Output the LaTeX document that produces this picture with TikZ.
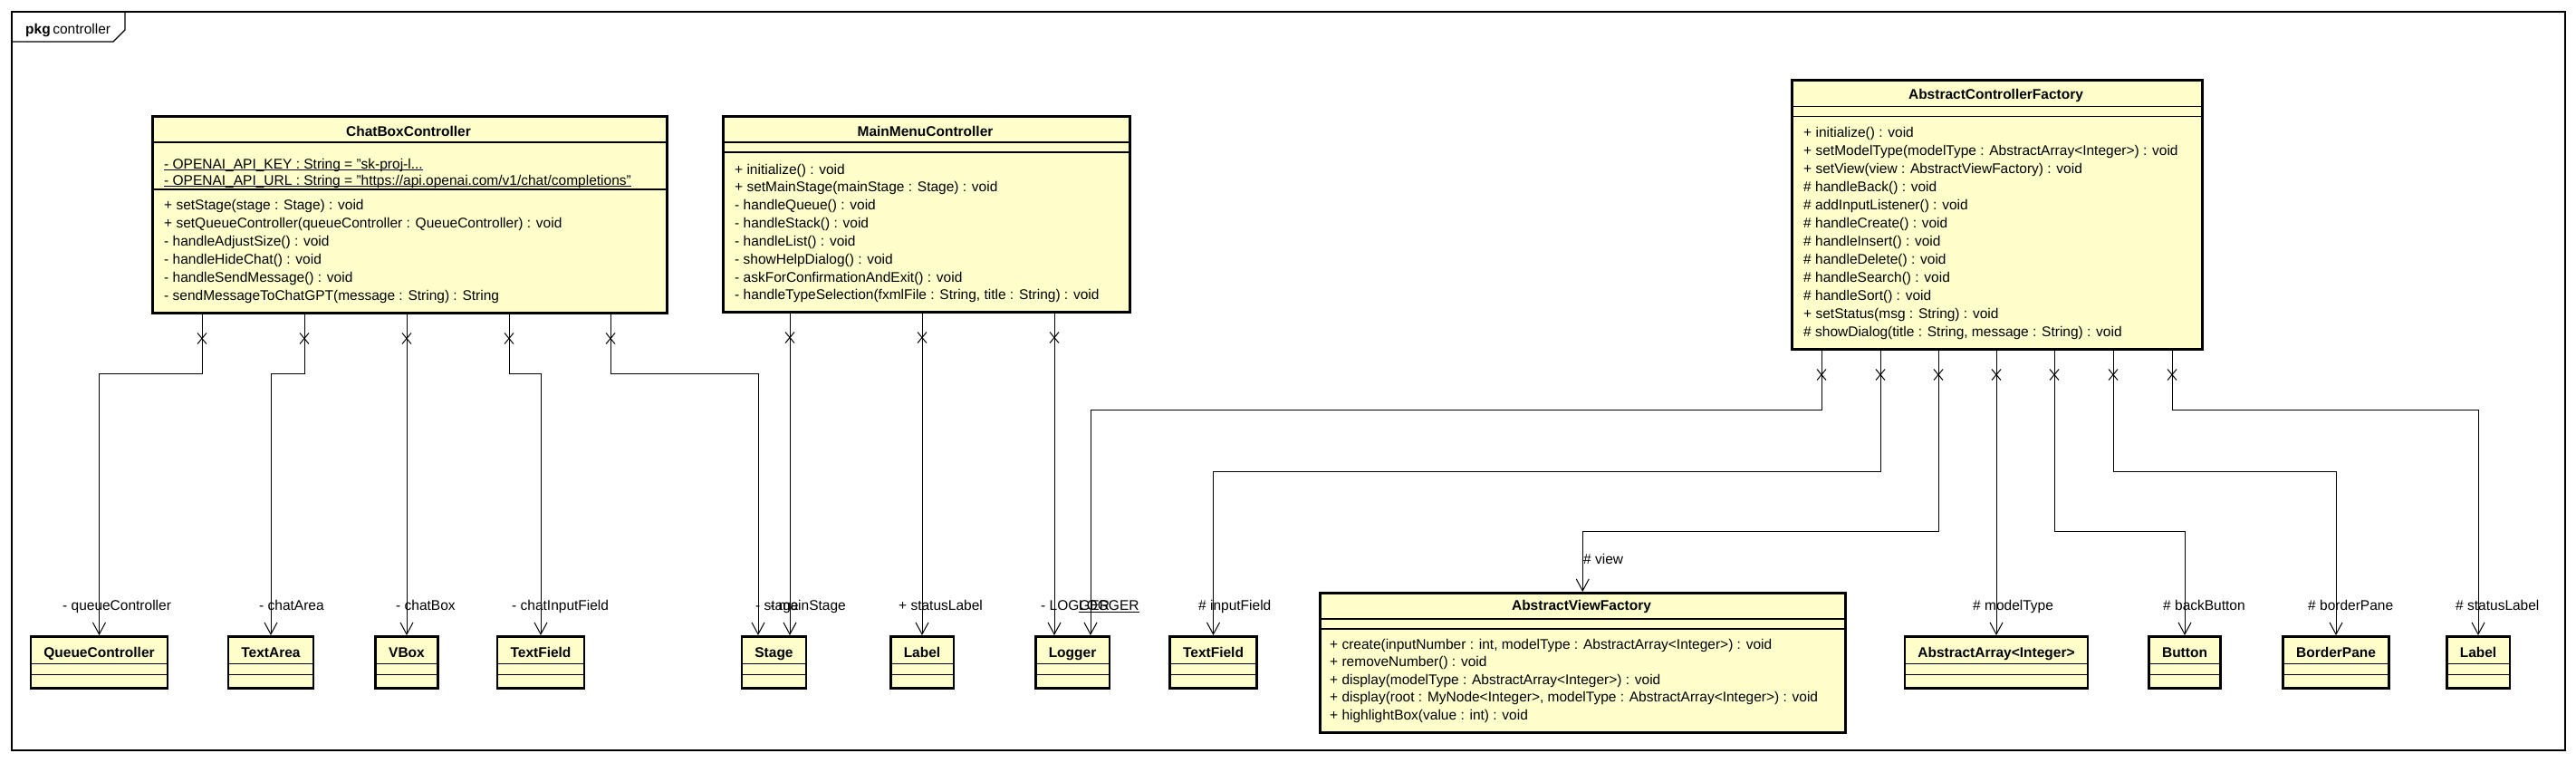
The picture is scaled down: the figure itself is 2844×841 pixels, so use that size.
\documentclass[tikz,border=0pt]{standalone}
\usepackage{fontspec}
\setmainfont{Liberation Sans}
\usetikzlibrary{calc,arrows.meta}
\definecolor{clsfill}{RGB}{255,255,204}
\newcommand{\ulin}[1]{\setbox0\hbox{#1}\rlap{\rule[-2pt]{\wd0}{1pt}}\box0}
\tikzset{
 cls/.style={draw=black, line width=2.5pt, fill=clsfill, inner sep=0pt, anchor=north west},
 scls/.style={draw=black, line width=2.5pt, fill=clsfill, anchor=north, inner xsep=14.5pt, inner ysep=0pt, text height=23.5pt, text depth=33.5pt, font=\fontsize{15.5}{20}\selectfont\bfseries},
 sepl/.style={line width=1.2pt},
 mtext/.style={anchor=base west, inner sep=0pt, font=\fontsize{15.5}{20}\selectfont},
 ttext/.style={anchor=base, inner sep=0pt, font=\fontsize{15.5}{20}\selectfont\bfseries},
 conn/.style={line width=1pt},
 assoc/.style={line width=1pt, -{Straight Barb[length=13pt,width=14pt,line width=1pt]}},
 frm/.style={line width=1.3pt},
}
\newcommand{\comp}[5]{%
 \foreach \txt [count=\i] in {#5} {\node[mtext] (#1\i) at (#2,{#3+#4*(\i-1)}) {\txt};}}
\newcommand{\smallcls}[3]{%
 \node[scls] (#1) at (#2,701) {#3};
 \draw[sepl] ($(#1.north west)+(0,31.5)$) -- ($(#1.north east)+(0,31.5)$);
 \draw[sepl] ($(#1.north west)+(0,43.5)$) -- ($(#1.north east)+(0,43.5)$);}
\newcommand{\assocfrom}[3]{%
 \coordinate (tmpS) at ($(#1.south west)+(#2,0)$);
 \draw[conn] ($(tmpS)+(-5,21)$) -- ($(tmpS)+(5,33)$) ($(tmpS)+(-5,33)$) -- ($(tmpS)+(5,21)$);
 \draw[assoc] (tmpS) #3;}
\begin{document}
\begin{tikzpicture}[x=1pt,y=-1pt]
\useasboundingbox (0,0) rectangle (2844,841);
% frame
\draw[frm] (13,13) rectangle (2832,828);
\draw[frm] (13,46) -- (125,46) -- (138,33) -- (138,13);
\node[mtext] (pkg) at (28,37) {\textbf{pkg}\,controller};

% ChatBoxController
\node[cls, minimum width=568pt, minimum height=217pt] (cbc) at (167,127) {};
\node[ttext] (cbct) at (451,150.5) {ChatBoxController};
\draw[sepl] (167,157) -- (735,157);
\draw[sepl] (167,209) -- (735,209);
\node[mtext] (cbca1) at (181,186) {\ulin{- OPENAI\_API\_KEY : String = "sk-proj-l...}};
\node[mtext] (cbca2) at (181,204) {\ulin{- OPENAI\_API\_URL : String = "https://api.openai.com/v1/chat/completions"}};
\comp{cbcm}{181}{231.5}{20}{+ setStage(stage : Stage) : void,+ setQueueController(queueController : QueueController) : void,- handleAdjustSize() : void,- handleHideChat() : void,- handleSendMessage() : void,- sendMessageToChatGPT(message : String) : String}

% MainMenuController
\node[cls, minimum width=449pt, minimum height=216pt] (mmc) at (797,127) {};
\node[ttext] (mmct) at (1021.5,150.5) {MainMenuController};
\draw[sepl] (797,157) -- (1246,157);
\draw[sepl] (797,168) -- (1246,168);
\comp{mmcm}{811}{192}{19.85}{+ initialize() : void,+ setMainStage(mainStage : Stage) : void,- handleQueue() : void,- handleStack() : void,- handleList() : void,- showHelpDialog() : void,- askForConfirmationAndExit() : void,{- handleTypeSelection(fxmlFile : String, title : String) : void}}

% AbstractControllerFactory
\node[cls, minimum width=453pt, minimum height=297pt] (acf) at (1977,87) {};
\node[ttext] (acft) at (2203.5,109) {AbstractControllerFactory};
\draw[sepl] (1977,117.5) -- (2430,117.5);
\draw[sepl] (1977,128.5) -- (2430,128.5);
\comp{acfm}{1991}{151}{20.09}{+ initialize() : void,+ setModelType(modelType : AbstractArray<Integer>) : void,+ setView(view : AbstractViewFactory) : void,\# handleBack() : void,\# addInputListener() : void,\# handleCreate() : void,\# handleInsert() : void,\# handleDelete() : void,\# handleSearch() : void,\# handleSort() : void,+ setStatus(msg : String) : void,{\# showDialog(title : String, message : String) : void}}

% AbstractViewFactory
\node[cls, minimum width=580pt, minimum height=154pt] (avf) at (1456,653) {};
\node[ttext] (avft) at (1746,673.5) {AbstractViewFactory};
\draw[sepl] (1456,683) -- (2036,683);
\draw[sepl] (1456,694) -- (2036,694);
\comp{avfm}{1468}{716}{19.5}{{+ create(inputNumber : int, modelType : AbstractArray<Integer>) : void},+ removeNumber() : void,+ display(modelType : AbstractArray<Integer>) : void,{+ display(root : MyNode<Integer>, modelType : AbstractArray<Integer>) : void},+ highlightBox(value : int) : void}

% small classes
\smallcls{qc}{109.5}{QueueController}
\smallcls{ta}{299}{TextArea}
\smallcls{vb}{449}{VBox}
\smallcls{tfa}{597}{TextField}
\smallcls{st}{854.5}{Stage}
\smallcls{lba}{1018}{Label}
\smallcls{lg}{1184}{Logger}
\smallcls{tfb}{1339.5}{TextField}
\smallcls{aa}{2204}{AbstractArray<Integer>}
\smallcls{bt}{2412}{Button}
\smallcls{bp}{2579}{BorderPane}
\smallcls{lbb}{2736}{Label}

% associations from ChatBoxController
\assocfrom{cbc}{56}{-- ++(0,66) -| (qc.north)}
\assocfrom{cbc}{169}{-- ++(0,66) -| (ta.north)}
\assocfrom{cbc}{282}{-- (vb.north)}
\assocfrom{cbc}{395}{-- ++(0,66) -| (tfa.north)}
\assocfrom{cbc}{507}{-- ++(0,66) -| ($(st.north)+(-17.5,0)$)}
% from MainMenuController
\assocfrom{mmc}{75}{-- ($(st.north)+(17.5,0)$)}
\assocfrom{mmc}{221}{-- (lba.north)}
\assocfrom{mmc}{367}{-- ($(lg.north)+(-20,0)$)}
% from AbstractControllerFactory
\assocfrom{acf}{34}{-- ++(0,66) -| ($(lg.north)+(20,0)$)}
\assocfrom{acf}{99}{-- ++(0,134) -| (tfb.north)}
\assocfrom{acf}{163}{-- ++(0,200) -| (avf.north)}
\assocfrom{acf}{227}{-- (aa.north)}
\assocfrom{acf}{291}{-- ++(0,200) -| (bt.north)}
\assocfrom{acf}{356}{-- ++(0,134) -| (bp.north)}
\assocfrom{acf}{421}{-- ++(0,66) -| (lbb.north)}

% role labels
\node[mtext] (r1) at (69,673.5) {- queueController};
\node[mtext] (r2) at (286,673.5) {- chatArea};
\node[mtext] (r3) at (437,673.5) {- chatBox};
\node[mtext] (r4) at (565,673.5) {- chatInputField};
\node[mtext] (r5) at (834,673.5) {- stage};
\node[mtext] (r6) at (850,673.5) {- mainStage};
\node[mtext] (r7) at (992,673.5) {+ statusLabel};
\node[mtext] (r8) at (1149,673.5) {- LOGGER};
\node[mtext] (r9) at (1191,673.5) {\ulin{LOGGER}};
\node[mtext] (r10) at (1323,673.5) {\# inputField};
\node[mtext] (r11) at (1748,622.5) {\# view};
\node[mtext] (r12) at (2178,673.5) {\# modelType};
\node[mtext] (r13) at (2388,673.5) {\# backButton};
\node[mtext] (r14) at (2548,673.5) {\# borderPane};
\node[mtext] (r15) at (2711,673.5) {\# statusLabel};
\end{tikzpicture}
\end{document}
